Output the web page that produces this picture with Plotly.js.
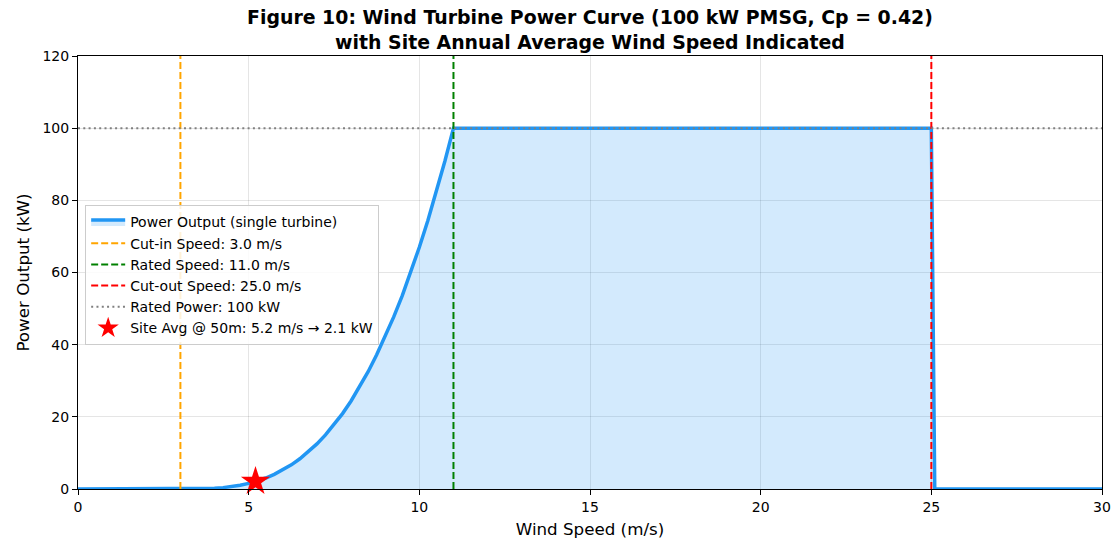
<!DOCTYPE html>
<html>
<head>
<meta charset="utf-8">
<script src="https://cdn.plot.ly/plotly-3.0.1.min.js"></script>
<style>html,body{margin:0;padding:0;background:#fff;}#chart{width:1114px;height:540px;}</style>
</head>
<body>
<div id="chart"></div>
<script>
// Power curve (wind speed m/s -> power kW)
const windSpeed = [0, 1, 2, 3, 3.25, 3.5, 3.75, 4, 4.25, 4.5, 4.75, 5, 5.25, 5.5, 5.75, 6, 6.25, 6.5, 6.75, 7, 7.25, 7.5, 7.75, 8, 8.25, 8.5, 8.75, 9, 9.25, 9.5, 9.75, 10, 10.25, 10.5, 10.75, 11, 12, 13, 14, 15, 16, 17, 18, 19, 20, 21, 22, 23, 24, 25, 25.1, 26, 27, 28, 29, 30];
const powerKW = [0, 0, 0, 0, 0.0, 0.02, 0.08, 0.2, 0.38, 0.66, 1.05, 1.56, 2.22, 3.05, 4.06, 5.27, 6.7, 8.37, 10.3, 12.5, 15.0, 17.8, 20.9, 24.4, 28.3, 32.5, 37.2, 42.2, 47.7, 53.6, 60.1, 67.0, 74.4, 82.4, 90.9, 100, 100, 100, 100, 100, 100, 100, 100, 100, 100, 100, 100, 100, 100, 100, 0, 0, 0, 0, 0, 0];

const cutIn = 3.0, ratedSpeed = 11.0, cutOut = 25.0, ratedPower = 100;
const siteSpeed = 5.2, sitePower = 2.1;
const xRange = [0, 30], yRange = [0, 120];

const traces = [
  {x: windSpeed, y: powerKW, type: 'scatter', mode: 'lines', fill: 'tozeroy',
   fillcolor: 'rgba(33,150,243,0.2)', line: {color: '#2196F3', width: 3.5},
   name: 'Power Output (single turbine)'},
  {x: [cutIn, cutIn], y: yRange, type: 'scatter', mode: 'lines',
   line: {color: 'orange', width: 2, dash: '7px,3px'}, name: 'Cut-in Speed: 3.0 m/s'},
  {x: [ratedSpeed, ratedSpeed], y: yRange, type: 'scatter', mode: 'lines',
   line: {color: 'green', width: 2, dash: '7px,3px'}, name: 'Rated Speed: 11.0 m/s'},
  {x: [cutOut, cutOut], y: yRange, type: 'scatter', mode: 'lines',
   line: {color: 'red', width: 2, dash: '7px,3px'}, name: 'Cut-out Speed: 25.0 m/s'},
  {x: xRange, y: [ratedPower, ratedPower], type: 'scatter', mode: 'lines',
   line: {color: 'gray', width: 2, dash: '2px,3.3px'}, name: 'Rated Power: 100 kW'},
  {x: [siteSpeed], y: [sitePower], type: 'scatter', mode: 'markers', cliponaxis: false,
   marker: {symbol: 'star', size: 22, color: 'red', line: {width: 0}},
   name: 'Site Avg @ 50m: 5.2 m/s → 2.1 kW'}
];

const axisCommon = {
  showline: true, mirror: true, linecolor: '#000', linewidth: 1,
  ticks: 'outside', ticklen: 5, tickcolor: '#000',
  showgrid: true, gridcolor: 'rgba(0,0,0,0.1)', gridwidth: 1,
  zeroline: false, tickfont: {size: 14, color: '#000'}
};

const layout = {
  width: 1114, height: 540,
  margin: {l: 78, r: 12, t: 56, b: 51},
  paper_bgcolor: '#fff', plot_bgcolor: '#fff',
  font: {family: 'DejaVu Sans, sans-serif', color: '#000'},
  title: {text: '<b>Figure 10: Wind Turbine Power Curve (100 kW PMSG, Cp = 0.42)<br>with Site Annual Average Wind Speed Indicated</b>',
          font: {size: 18.9, color: '#000'}, x: 0.5296, xanchor: 'center', y: 0.955, yanchor: 'top'},
  xaxis: Object.assign({}, axisCommon, {range: xRange, dtick: 5, tick0: 0,
          title: {text: 'Wind Speed (m/s)', font: {size: 16.7}, standoff: 9}}),
  yaxis: Object.assign({}, axisCommon, {range: yRange, dtick: 20, tick0: 0,
          title: {text: 'Power Output (kW)', font: {size: 16.7}, standoff: 8}}),
  showlegend: true,
  legend: {x: 0.007, y: 0.655, xanchor: 'left', yanchor: 'top',
           bgcolor: 'rgba(255,255,255,0.85)', bordercolor: '#ccc', borderwidth: 1,
           font: {size: 14, color: '#000'}, tracegroupgap: 0, itemwidth: 34}
};

Plotly.newPlot('chart', traces, layout, {displayModeBar: false, staticPlot: true});
</script>
</body>
</html>
